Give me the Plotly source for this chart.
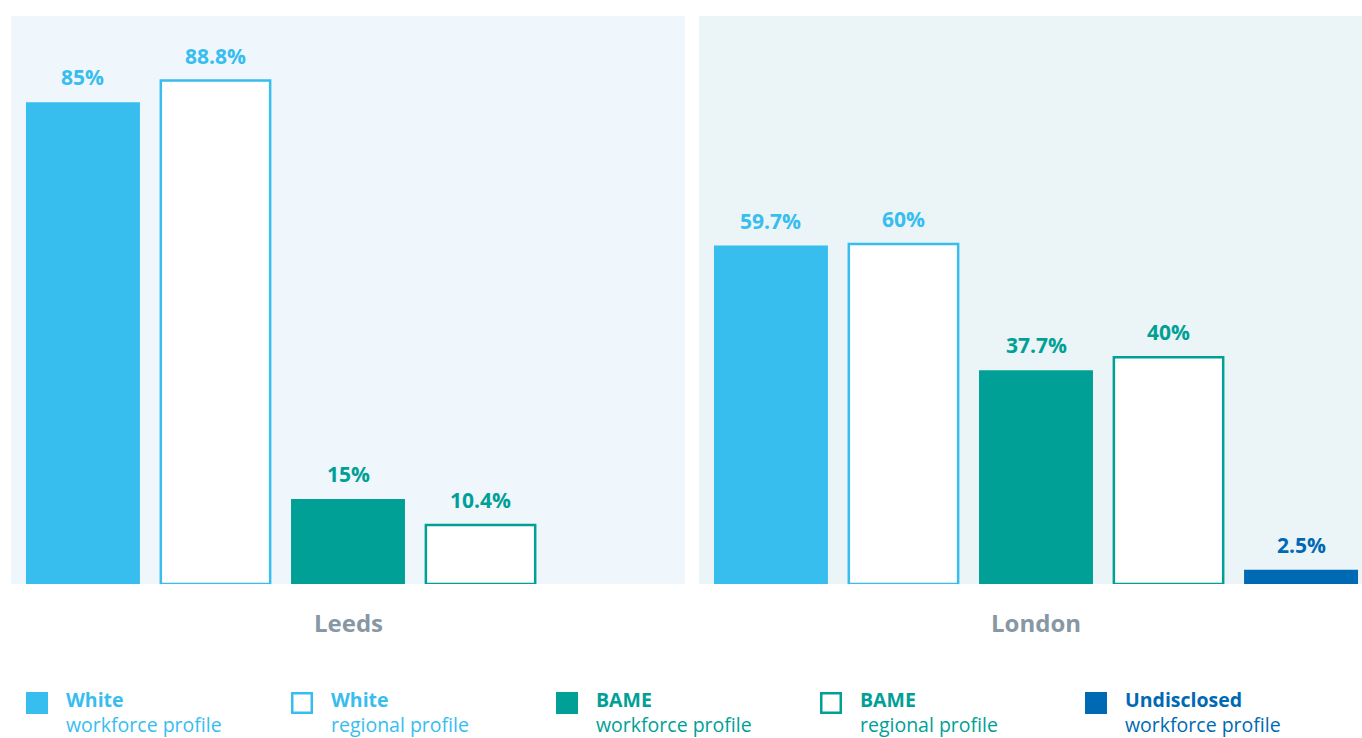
import plotly.graph_objects as go

# Series shown for each region (one bar slot per series)
series_bold = ["White", "White", "BAME", "BAME", "Undisclosed"]
series_sub = ["workforce profile", "regional profile", "workforce profile",
              "regional profile", "workforce profile"]
series_keys = [b + " " + s for b, s in zip(series_bold, series_sub)]
series_colors = ["#38bdef", "#38bdef", "#00a096", "#00a096", "#0069b4"]
series_filled = [True, False, True, False, True]

regions = ["Leeds", "London"]
leeds_values = [85, 88.8, 15, 10.4, None]
london_values = [59.7, 60, 37.7, 40, 2.5]
region_values = [leeds_values, london_values]

W, H = 1362, 738
panel_bg = ["#eff7fd", "#ebf4f6"]
axis_ids = ["x", "x2"]
domains = [[11 / W, 685 / W], [699 / W, 1.0]]
ranges = [[-0.543, 4.543], [-0.543, 4.46]]
y_domain = [(H - 584) / H, (H - 16) / H]

fig = go.Figure()
annotations = []
shapes = []

for r, (region, values, ax) in enumerate(zip(regions, region_values, axis_ids)):
    for key, val, col, filled in zip(series_keys, values, series_colors, series_filled):
        if val is None:
            continue
        fig.add_trace(go.Bar(
            x=[key], y=[val], xaxis=ax, yaxis="y",
            width=0.86 if filled else 0.825,
            marker=dict(color=col if filled else "#ffffff",
                        line=dict(color=col, width=0 if filled else 2.5)),
            hoverinfo="skip", showlegend=False,
        ))
        annotations.append(dict(
            x=key, y=val, xref=ax, yref="y", text=f"<b>{val:g}%</b>",
            showarrow=False, yanchor="middle", yshift=25,
            font=dict(size=21, color=col),
        ))
    # panel background
    shapes.append(dict(type="rect", xref=f"{ax} domain", yref="paper",
                       x0=0, x1=1, y0=y_domain[0], y1=y_domain[1],
                       fillcolor=panel_bg[r], line=dict(width=0), layer="below"))
    # region name under the panel
    annotations.append(dict(
        x=series_keys[2], y=1 - 622 / H, xref=ax, yref="paper",
        text=f"<b>{region}</b>", showarrow=False, yanchor="middle",
        font=dict(size=24, color="#8797a4"),
    ))

# legend row
legend_x = [26, 291, 556, 820, 1085]
for lx, b, s, col, filled in zip(legend_x, series_bold, series_sub, series_colors, series_filled):
    if filled:
        shapes.append(dict(type="rect", xref="paper", yref="paper",
                           x0=lx / W, x1=(lx + 22) / W,
                           y0=1 - 714 / H, y1=1 - 692 / H,
                           fillcolor=col, line=dict(width=0)))
    else:
        shapes.append(dict(type="rect", xref="paper", yref="paper",
                           x0=(lx + 1.25) / W, x1=(lx + 20.75) / W,
                           y0=1 - 712.75 / H, y1=1 - 693.25 / H,
                           fillcolor="#ffffff", line=dict(color=col, width=2.5)))
    annotations.append(dict(
        x=(lx + 38) / W, y=1 - 712 / H, xref="paper", yref="paper",
        text=f"<b>{b}</b><br>{s}", showarrow=False, xanchor="left",
        yanchor="middle", align="left",
        font=dict(size=19.5, color=col),
    ))

axis_common = dict(showgrid=False, zeroline=False, showline=False,
                   showticklabels=False, ticks="", fixedrange=True,
                   type="category", categoryorder="array", categoryarray=series_keys)

fig.update_layout(
    width=W, height=H,
    margin=dict(l=0, r=0, t=0, b=0),
    paper_bgcolor="#ffffff", plot_bgcolor="rgba(0,0,0,0)",
    font=dict(family="Open Sans, sans-serif"),
    barmode="overlay",
    xaxis=dict(domain=domains[0], range=ranges[0], anchor="y", **axis_common),
    xaxis2=dict(domain=domains[1], range=ranges[1], anchor="y", **axis_common),
    yaxis=dict(domain=y_domain, range=[0, 100.2], showgrid=False, zeroline=False,
               showline=False, showticklabels=False, ticks="", fixedrange=True),
    shapes=shapes,
    annotations=annotations,
    showlegend=False,
)

fig.write_html("out.html")
